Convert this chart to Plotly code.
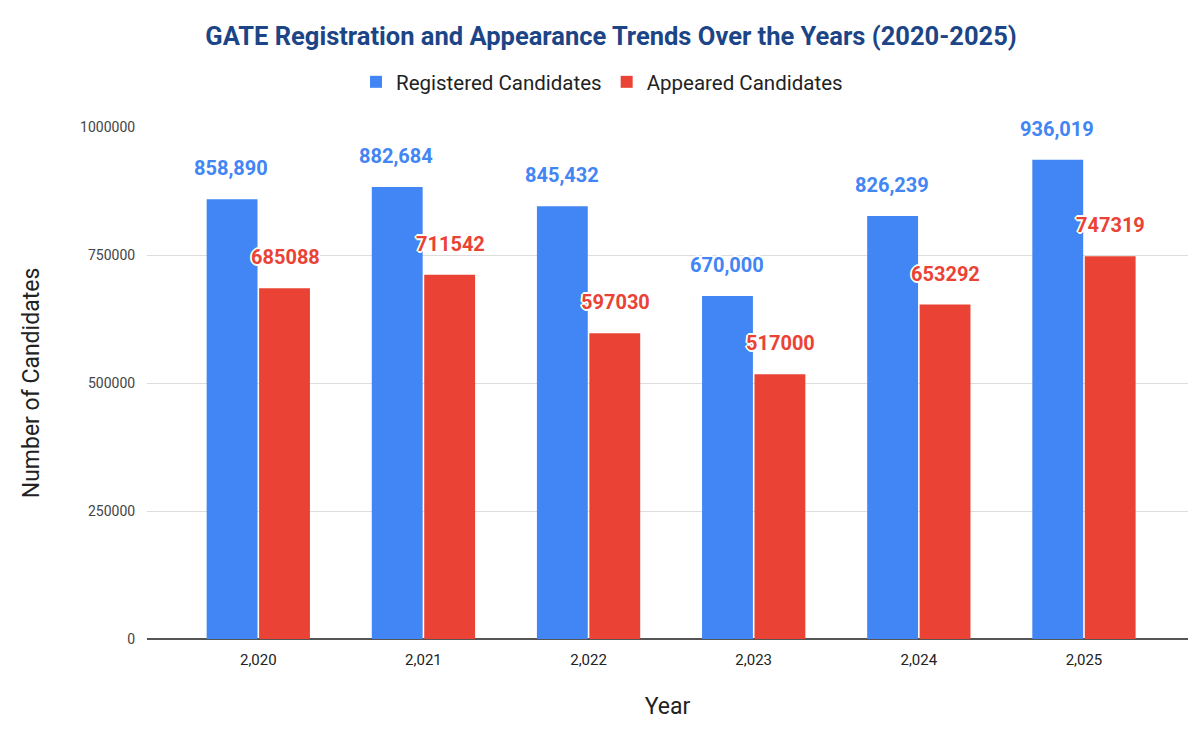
import plotly.graph_objects as go

years = ["2,020", "2,021", "2,022", "2,023", "2,024", "2,025"]
registered = [858890, 882684, 845432, 670000, 826239, 936019]
appeared = [685088, 711542, 597030, 517000, 653292, 747319]
registered_labels = ["858,890", "882,684", "845,432", "670,000", "826,239", "936,019"]
appeared_labels = ["685088", "711542", "597030", "517000", "653292", "747319"]
y_ticks = [0, 250000, 500000, 750000, 1000000]

BLUE = "#4285F4"
RED = "#EA4335"
outline = "1px 1px 0 white, -1px -1px 0 white, 1px -1px 0 white, -1px 1px 0 white, 0 2px 0 white, 0 -2px 0 white, 2px 0 0 white, -2px 0 0 white"

# page body offset compensation
OFF = 8
W, H = 1200, 737

fig = go.Figure()
fig.add_trace(go.Bar(x=years, y=registered, name="Registered Candidates",
                     marker=dict(color=BLUE, line=dict(width=0))))
fig.add_trace(go.Bar(x=years, y=appeared, name="Appeared Candidates",
                     marker=dict(color=RED, line=dict(width=0))))

annotations = []
for i, yr in enumerate(years):
    annotations.append(dict(x=yr, y=registered[i], xref="x", yref="y",
                            text=registered_labels[i], showarrow=False,
                            xshift=-27, yshift=31, yanchor="middle",
                            font=dict(family="Roboto", size=20, color=BLUE,
                                      weight="bold", shadow=outline)))
    annotations.append(dict(x=yr, y=appeared[i], xref="x", yref="y",
                            text=appeared_labels[i], showarrow=False,
                            xshift=27, yshift=31, yanchor="middle",
                            font=dict(family="Roboto", size=20, color=RED,
                                      weight="bold", shadow=outline)))

fig.update_layout(
    width=W, height=H,
    margin=dict(l=147 - OFF, r=12 + OFF, t=127 - OFF, b=98 + OFF),
    paper_bgcolor="white", plot_bgcolor="white",
    font=dict(family="Roboto", color="#222222"),
    barmode="group", bargap=0.365, bargroupgap=0.03,
    title=dict(text="<b>GATE Registration and Appearance Trends Over the Years (2020-2025)</b>",
               x=(611 - OFF) / W, xanchor="center", xref="container",
               y=1 - (36 - OFF) / H, yanchor="middle", yref="container",
               font=dict(family="Roboto", size=25.5, color="#1C4587")),
    legend=dict(orientation="h", x=(602 - OFF) / W, xanchor="center", xref="container",
                y=1 - (82 - OFF) / H, yanchor="middle", yref="container",
                font=dict(family="Roboto", size=20.5, color="#222222"),
                itemclick=False),
    annotations=annotations,
    xaxis=dict(type="category", range=[-0.674, 5.63],
               showgrid=False, showline=False,
               ticks="outside", ticklen=7, tickcolor="rgba(0,0,0,0)",
               tickfont=dict(size=15, color="#222222"),
               title=dict(text="Year", font=dict(size=23, color="#222222"), standoff=29)),
    yaxis=dict(range=[0, 1000000], tickvals=y_ticks, tickformat="d",
               showgrid=True, gridcolor="#DDDDDD", gridwidth=1,
               zeroline=True, zerolinecolor="#555555", zerolinewidth=1.5,
               ticks="outside", ticklen=8, tickcolor="rgba(0,0,0,0)",
               tickfont=dict(size=14, color="#444444"),
               title=dict(text="Number of Candidates", font=dict(size=23, color="#222222"), standoff=34)),
)

fig.write_html("out.html")
